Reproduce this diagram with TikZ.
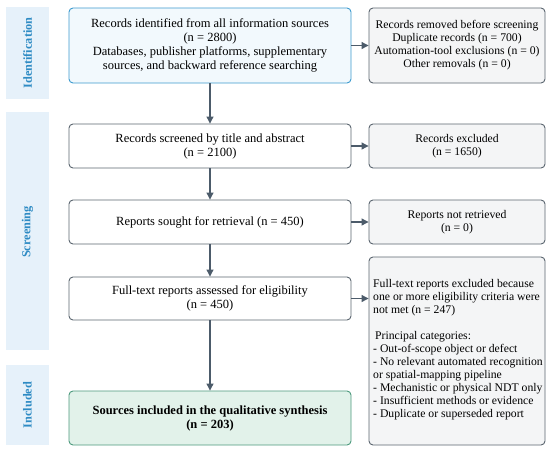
\documentclass[tikz,border=0pt]{standalone}
\usepackage{fontspec}
\setmainfont{Liberation Serif}
\usetikzlibrary{arrows.meta,calc}
\definecolor{sidefill}{HTML}{E6F1FA}
\definecolor{sidetext}{HTML}{2E8BC4}
\definecolor{idfill}{HTML}{F2F9FD}
\definecolor{iddraw}{HTML}{3D9BCF}
\definecolor{grayfill}{HTML}{F4F5F6}
\definecolor{graydraw}{HTML}{5B6670}
\definecolor{incfill}{HTML}{E2F2EA}
\definecolor{incdraw}{HTML}{4D9A7E}
\definecolor{arrowcol}{HTML}{4C5B6A}
\tikzset{
  sidebar/.style={fill=sidefill, draw=none},
  sidelabel/.style={text=sidetext, font=\fontsize{12.3}{14}\selectfont\bfseries, rotate=90},
  mainbox/.style={draw=graydraw, fill=white, rounded corners=4pt, line width=0.9pt, align=center,
    font=\fontsize{12.5}{14}\selectfont, inner sep=0pt},
  sidebox/.style={draw=graydraw, fill=grayfill, rounded corners=4pt, line width=0.9pt, align=center,
    font=\fontsize{11.7}{13}\selectfont, inner sep=0pt},
  flow/.style={draw=arrowcol, line width=1.1pt, -{Triangle[length=7pt,width=7pt]}}
}
\begin{document}
\begin{tikzpicture}[x=1pt,y=-1pt]
\useasboundingbox (0,0) rectangle (550,453);
\fill[white] (0,0) rectangle (550,453);
% sidebars
\fill[sidebar] (6,7) rectangle (49,99);
\fill[sidebar] (6,112) rectangle (49,350);
\fill[sidebar] (6,365) rectangle (49,445);
\node[sidelabel] (lid) at (27.5,53) {Identification};
\node[sidelabel] (lsc) at (27.5,232) {Screening};
\node[sidelabel] (lin) at (27.5,405) {Included};
% main boxes
\node[mainbox, draw=iddraw, fill=idfill, minimum width=282pt, minimum height=75pt] (b1) at (210,45.5)
  {Records identified from all information sources\\(n = 2800)\\Databases, publisher platforms, supplementary\\sources, and backward reference searching};
\node[mainbox, minimum width=282pt, minimum height=44pt] (b2) at (210,146)
  {Records screened by title and abstract\\(n = 2100)};
\node[mainbox, minimum width=282pt, minimum height=44pt] (b3) at (210,222)
  {Reports sought for retrieval (n = 450)};
\node[mainbox, minimum width=282pt, minimum height=43pt] (b4) at (210,298.5)
  {Full-text reports assessed for eligibility\\(n = 450)};
\node[mainbox, draw=incdraw, fill=incfill, minimum width=282pt, minimum height=54pt, font=\fontsize{12.5}{14}\selectfont\bfseries] (b5) at (210,418)
  {Sources included in the qualitative synthesis\\(n = 203)};
% side boxes
\node[sidebox, minimum width=176pt, minimum height=75pt] (r1) at (457,45.5)
  {Records removed before screening\\Duplicate records (n = 700)\\Automation-tool exclusions (n = 0)\\Other removals (n = 0)};
\node[sidebox, minimum width=176pt, minimum height=44pt] (r2) at (457,146)
  {Records excluded\\(n = 1650)};
\node[sidebox, minimum width=176pt, minimum height=44pt] (r3) at (457,222)
  {Reports not retrieved\\(n = 0)};
\node[sidebox, minimum width=176pt, minimum height=188pt] (r4) at (457,351) {};
\node[align=left, anchor=north west, inner sep=0pt, font=\fontsize{11.7}{13}\selectfont] (r4t) at (373,279)
  {Full-text reports excluded because\\one or more eligibility criteria were\\not met (n = 247)\\[13pt]
  \hspace{2pt}Principal categories:\\- Out-of-scope object or defect\\- No relevant automated recognition\\or spatial-mapping pipeline\\- Mechanistic or physical NDT only\\- Insufficient methods or evidence\\- Duplicate or superseded report};
% vertical arrows
\draw[flow] (b1.south) -- (b2.north);
\draw[flow] (b2.south) -- (b3.north);
\draw[flow] (b3.south) -- (b4.north);
\draw[flow] (b4.south) -- (b5.north);
% horizontal arrows
\draw[flow] (b1.east) -- (r1.west);
\draw[flow] (b2.east) -- (r2.west);
\draw[flow] (b3.east) -- (r3.west);
\draw[flow] (b4.east) -- (b4.east -| r4.west);
\end{tikzpicture}
\end{document}
